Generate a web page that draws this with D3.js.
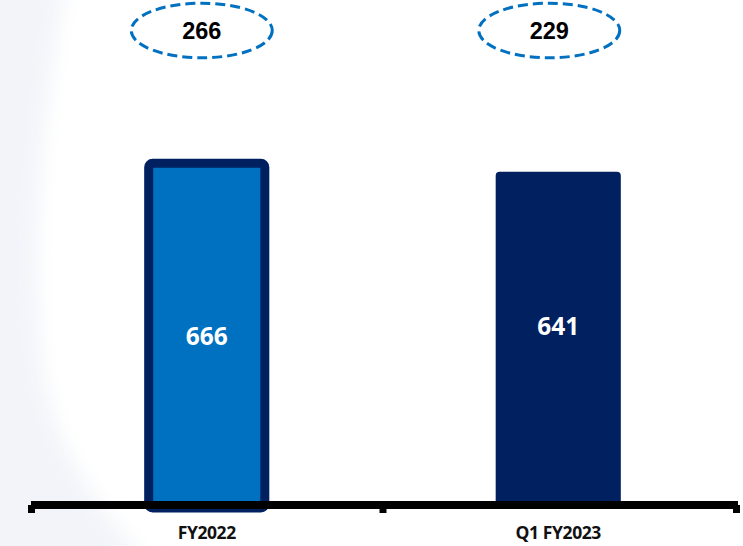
<!DOCTYPE html>
<html>
<head>
<meta charset="utf-8">
<script src="https://cdn.jsdelivr.net/npm/d3@7"></script>
<style>
  html, body { margin: 0; padding: 0; background: #fff; }
  svg { display: block; }
</style>
</head>
<body>
<svg id="chart" width="743" height="546"></svg>
<script>
// ---- data ----
const categories = ["FY2022", "Q1 FY2023"];
const barValues = [666, 641];
const bubbleValues = [266, 229];

// ---- style ----
const fills = ["#0070C0", "#002060"];
const strokes = ["#002060", "none"];
const labelDy = [13, -3];

const svg = d3.select("#chart");

// faint background swoosh on the left
const defs = svg.append("defs");
defs.append("filter").attr("id", "blur")
  .attr("x", "-50%").attr("y", "-10%").attr("width", "200%").attr("height", "120%")
  .append("feGaussianBlur").attr("stdDeviation", 10);
svg.append("path")
  .attr("d", "M-20,-20 L66,-20 C45,90 28,230 42,370 C55,450 95,505 150,566 L-20,566 Z")
  .attr("fill", "#f2f4f9")
  .attr("filter", "url(#blur)");

// scales
const x = d3.scaleBand().domain(categories).range([31, 734]).paddingInner(0).paddingOuter(0);
const y = d3.scaleLinear().domain([0, 800]).range([505, 89]);
const barW = x.bandwidth() * 0.356;
const baseY = y(0);

// bars
const bars = svg.append("g");
barValues.forEach((v, i) => {
  const cx = x(categories[i]) + x.bandwidth() / 2;
  const top = y(v);
  const sw = strokes[i] === "none" ? 0 : 9;
  bars.append("rect")
    .attr("x", cx - barW / 2 + sw / 2)
    .attr("y", top + sw / 2)
    .attr("width", barW - sw)
    .attr("height", baseY + 3 - top - sw / 2)
    .attr("rx", 4)
    .attr("fill", fills[i])
    .attr("stroke", strokes[i])
    .attr("stroke-width", sw);
  bars.append("text")
    .attr("x", cx)
    .attr("y", (top + baseY) / 2 + labelDy[i])
    .attr("text-anchor", "middle")
    .attr("fill", "#ffffff")
    .attr("font-family", "'Open Sans', Lato, sans-serif")
    .attr("font-weight", "bold")
    .attr("font-size", 24.5)
    .text(v);
});

// axis
const ax = svg.append("g");
ax.append("line")
  .attr("x1", x.range()[0]).attr("x2", x.range()[1] + 4)
  .attr("y1", baseY).attr("y2", baseY)
  .attr("stroke", "#000").attr("stroke-width", 8);
const tickXs = [x.range()[0], x(categories[1]), x.range()[1]];
tickXs.forEach((tx, i) => {
  ax.append("rect")
    .attr("x", tx - 3 + (i === 2 ? 2 : 0)).attr("y", baseY)
    .attr("width", 7).attr("height", 8)
    .attr("fill", "#000");
});
categories.forEach(c => {
  ax.append("text")
    .attr("x", x(c) + x.bandwidth() / 2)
    .attr("y", 539)
    .attr("text-anchor", "middle")
    .attr("fill", "#111")
    .attr("font-family", "'Open Sans', Lato, sans-serif")
    .attr("font-weight", "bold")
    .attr("font-size", 17.5)
    .attr("letter-spacing", -0.4)
    .text(c);
});

// dashed ellipses with values
bubbleValues.forEach((v, i) => {
  const cx = x(categories[i]) + x.bandwidth() / 2 - 5 - (i === 1 ? 4 : 0);
  svg.append("ellipse")
    .attr("cx", cx).attr("cy", 30.5)
    .attr("rx", 70.5).attr("ry", 27.3)
    .attr("fill", "none")
    .attr("stroke", "#0070C0")
    .attr("stroke-width", 3)
    .attr("stroke-dasharray", "10,5");
  svg.append("text")
    .attr("x", cx).attr("y", 39)
    .attr("text-anchor", "middle")
    .attr("fill", "#000")
    .attr("font-family", "'Liberation Sans', Arial, sans-serif")
    .attr("font-weight", "bold")
    .attr("font-size", 23.5)
    .text(v);
});
</script>
</body>
</html>
